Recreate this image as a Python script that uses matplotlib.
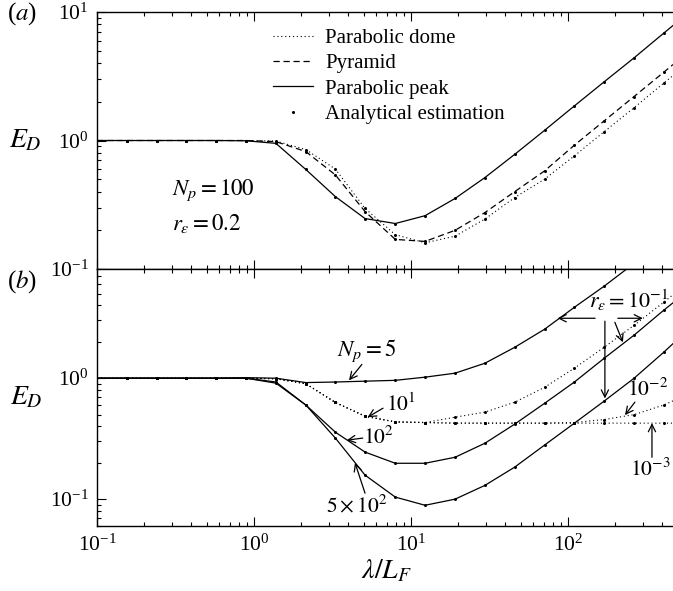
import numpy as np
import matplotlib
matplotlib.use('Agg')
import matplotlib.pyplot as plt
from matplotlib.lines import Line2D

plt.rcParams['font.family'] = ['Liberation Serif', 'DejaVu Serif']
plt.rcParams['mathtext.fontset'] = 'stix'

# ------------------------------------------------------------------ #
# Data                                             #
# ------------------------------------------------------------------ #
XMAX = 467
lam = [0.1, 0.155, 0.24, 0.37, 0.575, 0.89, 1.38, 2.14, 3.3, 5.1, 7.95,
       12.3, 19.1, 29.6, 45.8, 71, 110, 170, 264, 408, XMAX]

# (a) N_p = 100, r_eps = 0.2
dome = [1, 1, 1, 1, 1, 1, 0.99, 0.85, 0.6, 0.296, 0.185,
        0.16, 0.18, 0.245, 0.36, 0.5, 0.76, 1.17, 1.8, 2.8, 3.2]
pyramid = [1, 1, 1, 1, 1, 1, 0.98, 0.82, 0.54, 0.28, 0.17,
           0.164, 0.2, 0.275, 0.4, 0.58, 0.92, 1.42, 2.2, 3.4, 3.9]
peak = [1, 1, 1, 1, 1, 0.995, 0.95, 0.595, 0.366, 0.247, 0.226,
        0.26, 0.354, 0.515, 0.78, 1.2, 1.86, 2.86, 4.4, 6.85, 7.85]

# (b) different N_p and r_eps
np5 = [1, 1, 1, 1, 1, 1.01, 1.0, 0.92, 0.93, 0.945, 0.96,
       1.02, 1.1, 1.33, 1.8, 2.54, 3.86, 5.76, 8.9, 13.5, 15.5]
np10_r1 = [1, 1, 1, 1, 1, 1, 0.99, 0.9, 0.63, 0.485, 0.435,
           0.43, 0.476, 0.524, 0.633, 0.84, 1.21, 1.8, 2.74, 4.25, 4.9]
np10_r2 = [1, 1, 1, 1, 1, 1, 0.99, 0.9, 0.63, 0.485, 0.435,
           0.43, 0.425, 0.425, 0.425, 0.425, 0.43, 0.455, 0.5, 0.6, 0.65]
np10_r3 = [1, 1, 1, 1, 1, 1, 0.99, 0.9, 0.63, 0.485, 0.435,
           0.43, 0.425, 0.425, 0.425, 0.425, 0.425, 0.425, 0.425, 0.425, 0.425]
np100 = [1, 1, 1, 1, 1, 1, 0.93, 0.6, 0.358, 0.245, 0.198,
         0.198, 0.222, 0.29, 0.417, 0.62, 0.93, 1.46, 2.27, 3.65, 4.2]
np500 = [1, 1, 1, 1, 1, 1, 0.91, 0.6, 0.32, 0.158, 0.104,
         0.089, 0.1, 0.13, 0.184, 0.28, 0.425, 0.646, 1.0, 1.64, 1.93]

DOTTED = dict(ls=(0, (1, 2.5)), lw=0.8)
DASHED = dict(ls=(0, (5, 3)), lw=0.9)
SOLID = dict(ls='-', lw=0.9)


def curve(ax, y, style):
    ax.plot(lam, y, color='k', **style)
    # analytical estimation points
    ax.plot(lam[1:-1], y[1:-1], ls='none', marker='o', ms=2.2, mew=0, color='k', zorder=3)


def arrow(ax, start, end):
    ax.annotate('', xy=end, xytext=start,
                arrowprops=dict(arrowstyle='->', lw=0.9, color='k',
                                shrinkA=0, shrinkB=0, mutation_scale=13))


def style_axes(ax):
    ax.set_xscale('log')
    ax.set_yscale('log')
    ax.set_xlim(0.1, XMAX)
    ax.spines['right'].set_visible(False)
    ax.tick_params(which='both', direction='in', top=True, right=False,
                   labelsize=15.5, width=0.8)
    ax.tick_params(which='major', length=6.5, pad=6)
    ax.tick_params(which='minor', length=3)
    for s in ax.spines.values():
        s.set_linewidth(1.0)


fig = plt.figure(figsize=(6.73, 5.91), dpi=100)
ax1 = fig.add_axes([0.1441, 0.5448, 0.8559, 0.4349])
ax2 = fig.add_axes([0.1441, 0.1100, 0.8559, 0.4349])

# ------------------------------------------------------------------ #
# (a)                                                                  #
# ------------------------------------------------------------------ #
style_axes(ax1)
ax1.set_ylim(0.1, 10)
curve(ax1, dome, DOTTED)
curve(ax1, pyramid, DASHED)
curve(ax1, peak, SOLID)
ax1.tick_params(labelbottom=False)

handles = [Line2D([], [], color='k', **DOTTED),
           Line2D([], [], color='k', **DASHED),
           Line2D([], [], color='k', **SOLID),
           Line2D([], [], ls='none', marker='o', ms=2.2, mew=0, color='k')]
labels = ['Parabolic dome', 'Pyramid', 'Parabolic peak', 'Analytical estimation']
ax1.legend(handles, labels, loc='upper left', bbox_to_anchor=(0.306, 0.935),
           frameon=False, fontsize=15, handlelength=1.9, handletextpad=0.6,
           labelspacing=0.27, borderpad=0, borderaxespad=0, numpoints=1)

ax1.text(0.30, 0.408, '$N_p = 100$', fontsize=16.5, va='center')
ax1.text(0.30, 0.226, r'$r_\varepsilon = 0.2$', fontsize=16.5, va='center')
ax1.set_ylabel('$E_D$', fontsize=20, rotation=0, va='center', ha='center')
ax1.yaxis.set_label_coords(-0.125, 0.5)

# ------------------------------------------------------------------ #
# (b)                                                                  #
# ------------------------------------------------------------------ #
style_axes(ax2)
ax2.set_ylim(0.06, 8)
curve(ax2, np5, SOLID)
curve(ax2, np10_r1, DOTTED)
curve(ax2, np10_r2, DOTTED)
curve(ax2, np10_r3, DOTTED)
curve(ax2, np100, SOLID)
curve(ax2, np500, SOLID)

ax2.text(5.25, 1.70, '$N_p = 5$', fontsize=16.5, ha='center', va='center')
arrow(ax2, (4.87, 1.3), (4.03, 0.96))
ax2.text(8.63, 0.598, '$10^1$', fontsize=15.5, ha='center', va='center')
arrow(ax2, (6.64, 0.565), (5.3, 0.476))
ax2.text(6.25, 0.325, '$10^2$', fontsize=15.5, ha='center', va='center')
arrow(ax2, (4.93, 0.32), (3.9, 0.307))
ax2.text(4.53, 0.0876, r'$5\times10^2$', fontsize=15.5, ha='center', va='center')
arrow(ax2, (5.1, 0.112), (4.4, 0.2))

ax2.text(136, 4.42, r'$r_\varepsilon = 10^{-1}$', fontsize=16, ha='left', va='center')
arrow(ax2, (149, 3.13), (86, 3.13))
arrow(ax2, (208, 3.13), (300, 3.13))
arrow(ax2, (172, 2.96), (172, 0.68))
arrow(ax2, (199, 2.9), (224, 1.98))
ax2.text(324, 0.81, '$10^{-2}$', fontsize=15.5, ha='center', va='center')
arrow(ax2, (267, 0.634), (231, 0.495))
ax2.text(333, 0.174, '$10^{-3}$', fontsize=15.5, ha='center', va='center')
arrow(ax2, (343, 0.222), (343, 0.425))

ax2.set_ylabel('$E_D$', fontsize=20, rotation=0, va='center', ha='center')
ax2.yaxis.set_label_coords(-0.122, 0.5)
ax2.set_xlabel(r'$\lambda/L_F$', fontsize=20, va='center')
ax2.xaxis.set_label_coords(0.502, -0.175)

fig.text(22 / 673, 1 - 14 / 591, '($a$)', fontsize=18, ha='center', va='center')
fig.text(22 / 673, 1 - 282 / 591, '($b$)', fontsize=18, ha='center', va='center')

fig.savefig('out.png', dpi=100)
